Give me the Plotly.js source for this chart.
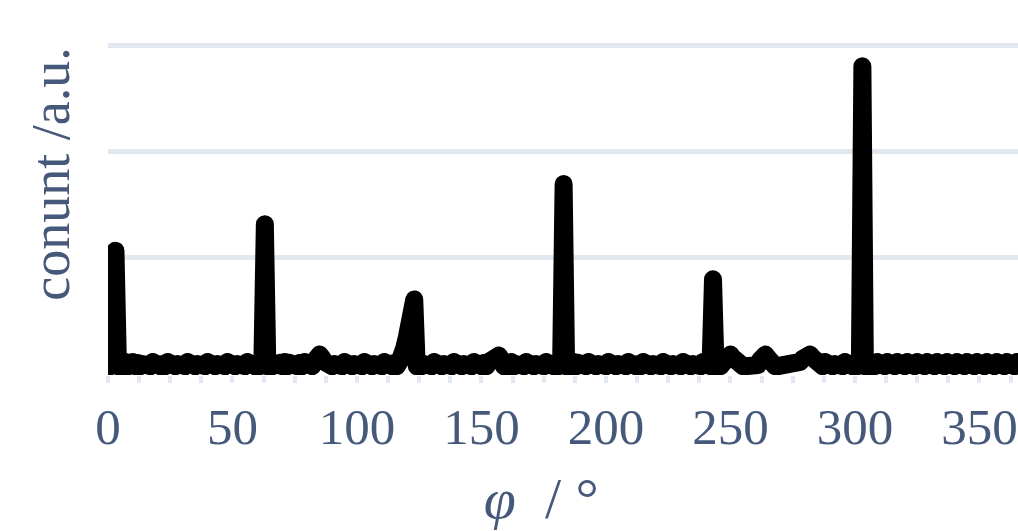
<!DOCTYPE html>
<html>
<head>
<meta charset="utf-8">
<script src="https://cdn.plot.ly/plotly-3.0.1.min.js"></script>
<style>
html,body{margin:0;padding:0;overflow:hidden;background:#fff}
#chart .js-line{stroke-linejoin:round !important;stroke-linecap:round !important}
</style>
</head>
<body>
<div id="chart" style="width:1018px;height:531px"></div>
<script>
// phi scan: angle grid (degrees)
const phiStart = 0;
const phiStep = 1;
// counts (a.u.), one value per degree from 0 to 365
const counts = [
  -1, -3, 0, 106, -3, 0, -3, 1, -3, 0,
  1, -3, 0, -3, -1, -3, 0, -3, 1, -3,
  0, -3, -1, -3, 1, -3, 0, -3, -1, -3,
  0, -3, 1, -3, 0, -3, -1, -3, 0, -3,
  1, -3, 0, -3, -1, -3, 0, -3, 1, -3,
  0, -3, -1, -3, 0, -3, 1, -3, 0, -3,
  -1, -3, 0, 131, -3, 0, -3, -1, -3, 0,
  -3, 1, -3, 0, -3, -1, -3, 0, -3, 1,
  -3, 0, -3, 2, 5, 8, 5, 1, -3, 0,
  -3, -1, -3, 0, -3, 1, -3, 0, -3, -1,
  -3, 0, -3, 1, -3, 0, -3, -1, -3, 0,
  -3, 1, -3, -1, -3, 0, -3, 1, 5, 14,
  24, 36, 48, 60, -3, 0, -3, -1, -3, 0,
  -3, 1, -3, 0, -3, -1, -3, 0, -3, 1,
  -3, 0, -3, -1, -3, 0, -3, 1, -3, 0,
  -3, 0, -3, 1, 4, 7, 8, 7, 3, -3,
  0, -3, 1, -3, -1, -3, 0, -3, 1, -3,
  0, -3, -1, -3, 0, -3, 1, -3, 0, -3,
  -1, -3, 0, 169, -3, 0, -3, 1, -3, 0,
  -3, -1, -3, 1, -3, 0, -3, -1, -3, 0,
  -3, 1, -3, 0, -3, -1, -3, 0, -3, 1,
  -3, 0, -3, -1, -3, 1, -3, 0, -3, -1,
  -3, 0, -3, 1, -3, 0, -3, -1, -3, 0,
  -3, 1, -3, 0, -3, -1, -3, 0, -3, 1,
  -3, 0, -3, 79, -3, 0, -3, 1, 4, 7,
  8, 5, 1, -3, -3, -3, -3, -3, -3, -3,
  -3, -2, 3, 7, 8, 5, 0, -3, -3, -3,
  -3, -3, -3, -3, -3, -3, -3, -2, 1, 4,
  7, 8, 8, 5, 1, -3, 0, -3, 1, -3,
  0, -3, -1, -3, 0, -3, 1, -3, 0, -3,
  0, -3, 1, 280, -3, 1, -3, 0, -3, 1,
  -3, 0, -3, 1, -3, 0, -3, 1, -3, 0,
  -3, 1, -3, 0, -3, 1, -3, 0, -3, 1,
  -3, 0, -3, 1, -3, 0, -3, 1, -3, 0,
  -3, 1, -3, 0, -3, 1, -3, 0, -3, 1,
  -3, 0, -3, 1, -3, 0, -3, 1, -3, 0,
  -3, 1, -3, 0, -3, 1
];
const xTickVals = [0, 50, 100, 150, 200, 250, 300, 350];
const xTickText = ['0', '50', '100', '150', '200', '250', '300', '350'];
const yGridVals = [0, 100, 200, 300];

const phi = counts.map((_, i) => phiStart + i * phiStep);

const textColor = '#46597a';
const gridColor = '#e2e8f0';
const fontFamily = '"Times New Roman", "Liberation Serif", serif';

const trace = {
  x: phi,
  y: counts,
  type: 'scatter',
  mode: 'lines',
  line: { color: '#000000', width: 18 },
  hoverinfo: 'skip'
};

const layout = {
  width: 1018,
  height: 531,
  margin: { l: 108, r: 0, t: 0, b: 156 },
  paper_bgcolor: '#ffffff',
  plot_bgcolor: '#ffffff',
  font: { family: fontFamily, size: 50, color: textColor },
  showlegend: false,
  xaxis: {
    range: [0, 365.5],
    tickmode: 'array',
    tickvals: xTickVals,
    ticktext: xTickText,
    showgrid: false,
    zeroline: false,
    showline: false,
    ticks: 'outside',
    ticklen: 7,
    tickwidth: 4,
    tickcolor: gridColor,
    ticklabeloverflow: 'allow',
    minor: { dtick: 12.5, tick0: 0, ticks: 'outside', ticklen: 7, tickwidth: 4, tickcolor: gridColor, showgrid: false },
    tickfont: { family: fontFamily, size: 51, color: textColor },
    title: { text: '<i>φ</i>\u00a0\u00a0/\u00a0°\u00a0\u00a0\u00a0\u200b', font: { family: fontFamily, size: 58, color: textColor }, standoff: 37 }
  },
  yaxis: {
    range: [-11.3, 342.5],
    tickmode: 'array',
    tickvals: yGridVals,
    showticklabels: false,
    ticks: '',
    showgrid: true,
    gridcolor: gridColor,
    gridwidth: 5,
    zeroline: true,
    zerolinecolor: gridColor,
    zerolinewidth: 5,
    showline: false,
    title: { text: '\u200b\u00a0\u00a0conunt /a.u.', font: { family: fontFamily, size: 54, color: textColor }, standoff: 20 }
  }
};

Plotly.newPlot('chart', [trace], layout, { staticPlot: true, displayModeBar: false });
</script>
</body>
</html>
